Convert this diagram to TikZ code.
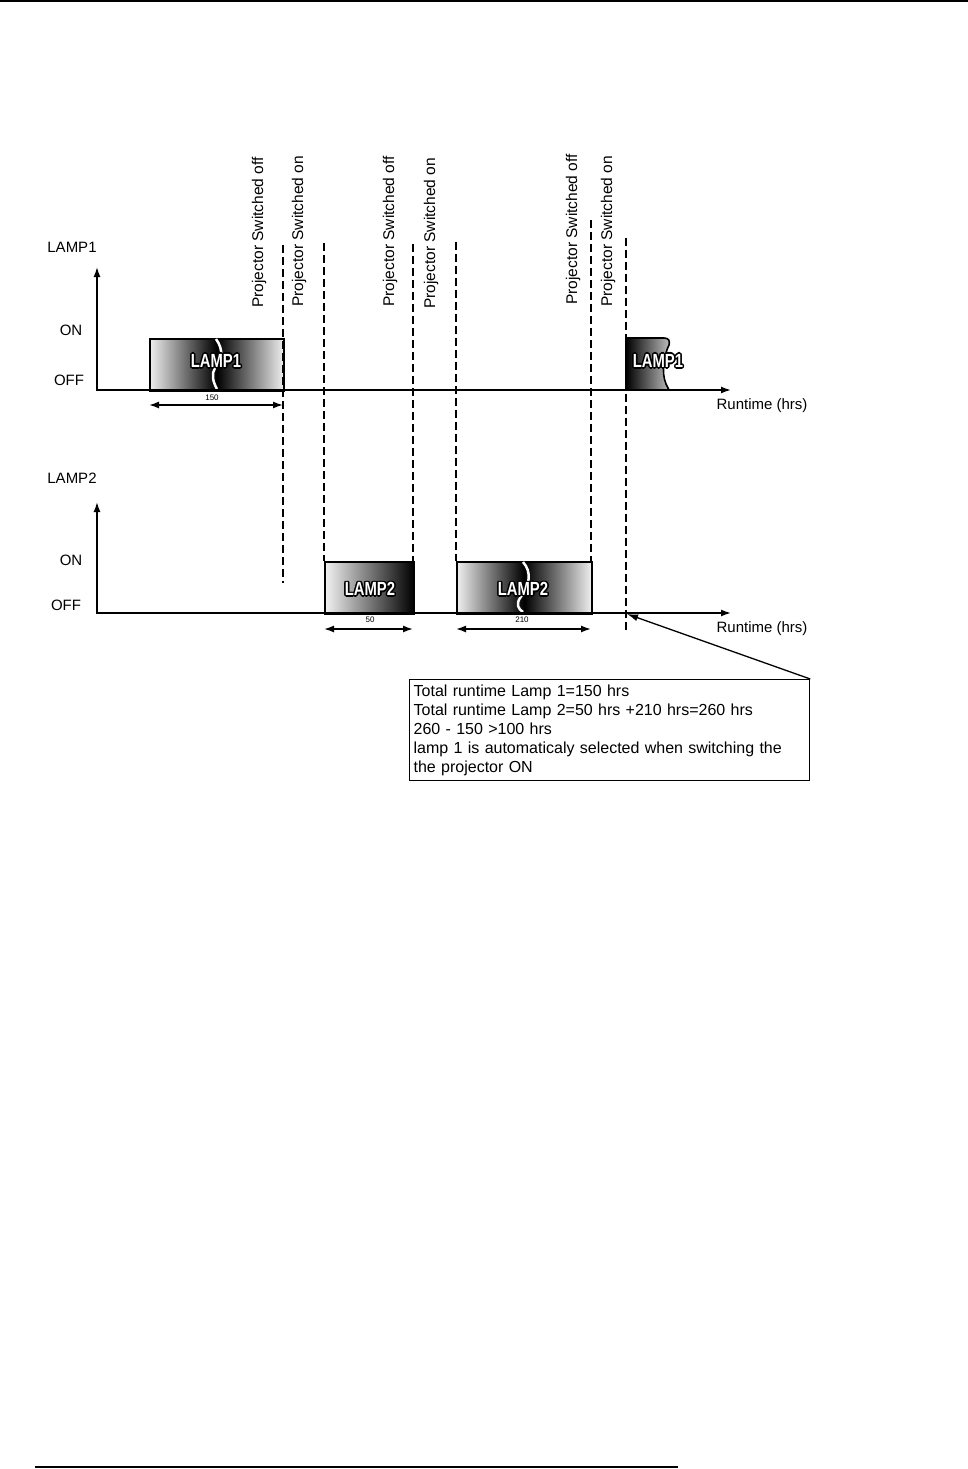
\documentclass[tikz,border=0pt]{standalone}
\usepackage{fontspec}
\setmainfont{Liberation Sans}
\newfontfamily\lampfont[FakeStretch=0.78]{Liberation Sans}
\usetikzlibrary{arrows.meta,calc}

\newcommand\outlinedtext[1]{%
  \leavevmode
  \rlap{\textcolor{black}{\kern-1.6pt#1}}%
  \rlap{\textcolor{black}{\kern1.6pt#1}}%
  \rlap{\textcolor{black}{\raisebox{1.6pt}{#1}}}%
  \rlap{\textcolor{black}{\raisebox{-1.6pt}{#1}}}%
  \rlap{\textcolor{black}{\kern-1.15pt\raisebox{1.15pt}{#1}}}%
  \rlap{\textcolor{black}{\kern1.15pt\raisebox{1.15pt}{#1}}}%
  \rlap{\textcolor{black}{\kern-1.15pt\raisebox{-1.15pt}{#1}}}%
  \rlap{\textcolor{black}{\kern1.15pt\raisebox{-1.15pt}{#1}}}%
  \textcolor{white}{#1}}

\tikzset{
  axisline/.style={line width=1.6pt, {Latex[length=10pt,width=7pt]}-{Latex[length=10pt,width=7pt]}},
  dashline/.style={line width=1.6pt, dash pattern=on 8pt off 4pt},
  lampbox/.style={draw, line width=1.6pt, inner sep=0pt, anchor=north west, minimum height=52pt},
  dim/.style={line width=1.6pt, {Latex[length=10pt,width=7pt]}-{Latex[length=10pt,width=7pt]}},
  lbl/.style={font=\fontsize{15}{17}\selectfont, inner sep=0pt},
  sw/.style={font=\fontsize{15.5}{17}\selectfont, inner sep=0pt, rotate=90, anchor=west},
  tear/.style={white, line width=2.5pt},
  lamplbl/.style={font=\lampfont\bfseries\fontsize{19}{19}\selectfont, inner sep=0pt},
  small/.style={font=\fontsize{8}{9}\selectfont, inner sep=0pt},
}

\begin{document}
\begin{tikzpicture}[x=1pt, y=-1pt]
\useasboundingbox (0,0) rectangle (968,1469);

% page rules
\coordinate (tl) at (0,1);
\coordinate (tr) at (968,1);
\draw[line width=2.5pt] (tl) -- (tr);
\coordinate (bl) at (35,1467);
\coordinate (br) at (678,1467);
\draw[line width=2.5pt] (bl) -- (br);

% ---------- LAMP1 ----------
\node[lampbox, shade, left color=gray!12, right color=gray!12, middle color=black, minimum width=134pt] (b1) at (149,338) {};
\draw[tear] (216,339) .. controls (224,350) and (222,360) .. (215,368) .. controls (211,374) and (213,382) .. (217,389);
\node[lamplbl] (t1) at (216,361) {\outlinedtext{LAMP1}};

\shade[left color=black, right color=gray!50] (626,338) -- (664,338) .. controls (669,338) and (670,341) .. (669,345) .. controls (664,355) and (661,372) .. (666,384) -- (669,390) -- (626,390) -- cycle;
\draw[line width=1.6pt] (626,390) -- (626,338) -- (664,338) .. controls (669,338) and (670,341) .. (669,345) .. controls (664,355) and (661,372) .. (666,384) -- (669,390);
\node[lamplbl] (t4) at (658,361) {\outlinedtext{LAMP1}};

\coordinate (y1) at (97,267);
\coordinate (o1) at (97,390);
\coordinate (x1) at (731,390);
\draw[axisline] (y1) -- (o1) -- (x1);

\node[lbl] (L1) at (72,247) {LAMP1};
\node[lbl] (on1) at (71,330) {ON};
\node[lbl] (off1) at (69,380) {OFF};
\node[lbl] (rt1) at (762,406) {Runtime (hrs)};

\coordinate (a1) at (149,405);
\coordinate (a2) at (283,405);
\draw[dim] (a1) -- (a2);
\node[small] (n150) at (212,398) {150};

% ---------- LAMP2 ----------
\node[lampbox, shade, left color=gray!10, right color=black, minimum width=89pt] (b2) at (324,561) {};
\node[lamplbl] (t2) at (370,589) {\outlinedtext{LAMP2}};

\node[lampbox, shade, left color=gray!12, right color=gray!12, middle color=black, minimum width=135pt] (b3) at (456,561) {};
\draw[tear] (523,562) .. controls (532,572) and (530,585) .. (520,598) .. controls (516,604) and (518,609) .. (523,612);
\node[lamplbl] (t3) at (523,589) {\outlinedtext{LAMP2}};

\coordinate (y2) at (97,502);
\coordinate (o2) at (97,613);
\coordinate (x2) at (731,613);
\draw[axisline] (y2) -- (o2) -- (x2);

\node[lbl] (L2) at (72,478) {LAMP2};
\node[lbl] (on2) at (71,560) {ON};
\node[lbl] (off2) at (66,605) {OFF};
\node[lbl] (rt2) at (762,629) {Runtime (hrs)};

\coordinate (c1) at (324,629);
\coordinate (c2) at (413,629);
\draw[dim] (c1) -- (c2);
\node[small] (n50) at (370,620) {50};
\coordinate (e1) at (456,629);
\coordinate (e2) at (591,629);
\draw[dim] (e1) -- (e2);
\node[small] (n210) at (522,620) {210};

% ---------- dashed switch lines ----------
\coordinate (d1t) at (283,245); \coordinate (d1b) at (283,583);
\coordinate (d2t) at (324,243); \coordinate (d2b) at (324,561);
\coordinate (d3t) at (413,244); \coordinate (d3b) at (413,561);
\coordinate (d4t) at (456,242); \coordinate (d4b) at (456,561);
\coordinate (d5t) at (591,220); \coordinate (d5b) at (591,561);
\coordinate (d6t) at (626,238); \coordinate (d6b) at (626,632);
\draw[dashline] (d1t) -- (d1b);
\draw[dashline] (d2t) -- (d2b);
\draw[dashline] (d3t) -- (d3b);
\draw[dashline] (d4t) -- (d4b);
\draw[dashline] (d5t) -- (d5b);
\draw[dashline] (d6t) -- (d6b);

\node[sw] (s1) at (259,308) {Projector Switched off};
\node[sw] (s2) at (299,307) {Projector Switched on};
\node[sw] (s3) at (390,307) {Projector Switched off};
\node[sw] (s4) at (431,309) {Projector Switched on};
\node[sw] (s5) at (573,305) {Projector Switched off};
\node[sw] (s6) at (608,307) {Projector Switched on};

% ---------- callout ----------
\node[draw, line width=1.3pt, anchor=north west, minimum width=400pt, minimum height=101pt,
      text width=392pt, align=left, inner sep=4pt, font=\fontsize{16}{19}\selectfont] (note) at (409,679)
 {Total runtime Lamp 1=150 hrs\\
  Total runtime Lamp 2=50 hrs +210 hrs=260 hrs\\
  260 - 150 >100 hrs\\
  lamp 1 is automaticaly selected when switching the\\
  the projector ON};
\coordinate (tip) at (627,614);
\draw[line width=1.3pt, -{Latex[length=11pt,width=7pt]}] (note.north east) -- (tip);
\end{tikzpicture}
\end{document}
